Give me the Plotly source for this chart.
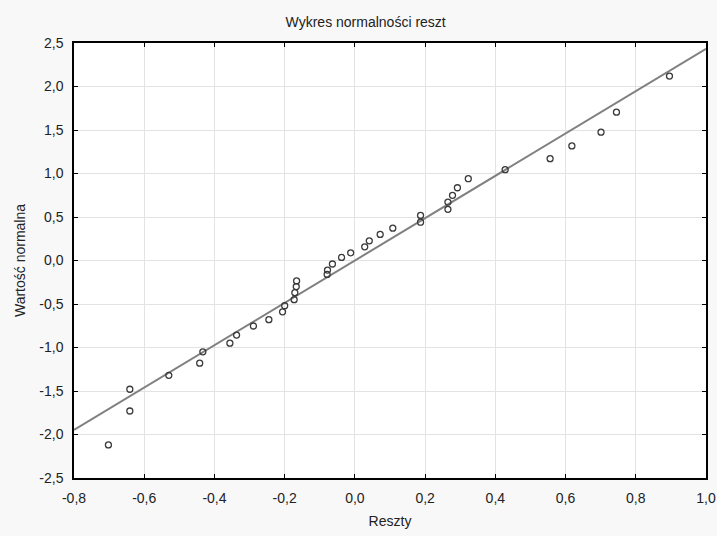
import plotly.graph_objects as go
import numpy as np

# Residuals (x) and expected normal values (y)
reszty = [-0.702, -0.641, -0.641, -0.530, -0.442, -0.433, -0.356, -0.337, -0.289, -0.245,
          -0.206, -0.200, -0.173, -0.171, -0.167, -0.166, -0.079, -0.078, -0.064, -0.038,
          -0.012, 0.028, 0.041, 0.072, 0.108, 0.187, 0.187, 0.265, 0.265, 0.278,
          0.292, 0.323, 0.428, 0.556, 0.618, 0.701, 0.745, 0.896]
wartosc_normalna = [-2.12, -1.48, -1.73, -1.32, -1.18, -1.05, -0.95, -0.857, -0.753, -0.68,
                    -0.59, -0.52, -0.45, -0.37, -0.30, -0.235, -0.16, -0.11, -0.04, 0.035,
                    0.088, 0.157, 0.226, 0.30, 0.372, 0.44, 0.518, 0.588, 0.672, 0.749,
                    0.836, 0.94, 1.044, 1.17, 1.317, 1.475, 1.705, 2.12]

# Reference line parameters
line_intercept = 0.0
line_slope = 2.433

x_tickvals = [-0.8, -0.6, -0.4, -0.2, 0.0, 0.2, 0.4, 0.6, 0.8, 1.0]
x_ticktext = ["-0,8", "-0,6", "-0,4", "-0,2", "0,0", "0,2", "0,4", "0,6", "0,8", "1,0"]
y_tickvals = [-2.5, -2.0, -1.5, -1.0, -0.5, 0.0, 0.5, 1.0, 1.5, 2.0, 2.5]
y_ticktext = ["-2,5", "-2,0", "-1,5", "-1,0", "-0,5", "0,0", "0,5", "1,0", "1,5", "2,0", "2,5"]

x_range = [-0.8, 1.0]
y_range = [-2.5, 2.5]

line_x = np.array(x_range)
line_y = line_intercept + line_slope * line_x

fig = go.Figure()
fig.add_trace(go.Scatter(
    x=line_x, y=line_y, mode="lines",
    line=dict(color="#808080", width=2),
    hoverinfo="skip", showlegend=False, cliponaxis=True))
fig.add_trace(go.Scatter(
    x=reszty, y=wartosc_normalna, mode="markers",
    marker=dict(symbol="circle-open", size=6, color="#3a3a3a", line=dict(width=1.3, color="#3a3a3a")),
    showlegend=False))

font_family = "Liberation Sans, Arial, sans-serif"
axis_common = dict(
    showline=True, linecolor="#000000", linewidth=1.5, mirror="ticks",
    ticks="inside", ticklen=4, tickcolor="#000000", tickwidth=1,
    showgrid=True, gridcolor="#e3e3e3", gridwidth=1,
    zeroline=False, automargin=False,
    tickfont=dict(family=font_family, size=14, color="#222222"),
)

fig.update_layout(
    width=717, height=536,
    paper_bgcolor="#f8f8f8", plot_bgcolor="#ffffff",
    margin=dict(l=74, r=11, t=43, b=58),
    font=dict(family=font_family, color="#222222"),
    title=dict(text="Wykres normalności reszt", xref="container", x=0.51, xanchor="center",
               yref="container", y=1 - 22 / 536, yanchor="middle",
               font=dict(family=font_family, size=14, color="#222222")),
    xaxis=dict(range=x_range, tickvals=x_tickvals, ticktext=x_ticktext,
               title=dict(text="Reszty", font=dict(family=font_family, size=14, color="#222222"), standoff=12),
               ticklabelstandoff=6, **axis_common),
    yaxis=dict(range=y_range, tickvals=y_tickvals, ticktext=y_ticktext,
               title=dict(text="Wartość normalna", font=dict(family=font_family, size=14, color="#222222"), standoff=10),
               ticklabelstandoff=6, **axis_common),
)

fig.write_html("out.html", config={"displayModeBar": False},
               post_script="document.body.style.margin='0';document.body.style.padding='0';")
